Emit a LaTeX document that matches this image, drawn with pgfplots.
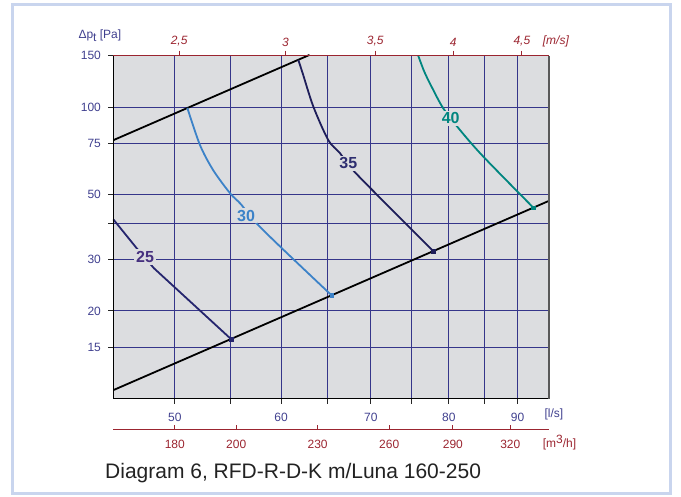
\documentclass[border=0pt]{standalone}
\usepackage{fontspec}
\setmainfont{Liberation Sans}
\usepackage{pgfplots}
\pgfplotsset{compat=1.18}
\newcommand{\fs}[1]{\fontsize{#1bp}{#1bp}\selectfont}
\definecolor{framecol}{HTML}{C9D5EE}
\definecolor{plotbg}{HTML}{DCDDE0}
\definecolor{gridcol}{HTML}{35358A}
\definecolor{axblue}{HTML}{40408F}
\definecolor{axred}{HTML}{9B2530}
\definecolor{c25}{HTML}{25256E}
\definecolor{l25}{HTML}{46307F}
\definecolor{c30}{HTML}{3C82C8}
\definecolor{c35}{HTML}{1E1E5A}
\definecolor{l35}{HTML}{2E2E70}
\definecolor{c40}{HTML}{00857F}
\definecolor{titlecol}{HTML}{222222}
\begin{document}
\begin{tikzpicture}[x=1bp,y=1bp]
\useasboundingbox (0,0) rectangle (681,497);
\draw[framecol, line width=2.5bp] (12.7,3.7) rectangle (670.5,492.5);

% m3/h axis
\begin{axis}[at={(113.3bp,67.7bp)}, anchor=south west, scale only axis,
  width=435.7bp, height=10bp, xmode=log, xmin=45, xmax=95, ymin=0, ymax=1,
  axis x line*=bottom, hide y axis,
  axis line style={axred, line width=1bp},
  xtick={50,55.556,63.889,72.222,80.556,88.889},
  xticklabels={180,200,230,260,290,320}, minor xtick={},
  tick align=inside, major tick length=4.3bp,
  tick style={axred, line width=1bp},
  xticklabel style={font=\fs{12}, text=axred, yshift=-7bp}]
\addplot[draw=none] coordinates {(50,0.5)};
\end{axis}

% top m/s axis
\begin{axis}[at={(113.3bp,98.3bp)}, anchor=south west, scale only axis,
  width=435.7bp, height=343bp, xmode=log, xmin=45, xmax=95, ymin=0, ymax=1,
  axis x line*=top, hide y axis,
  axis line style={draw=none},
  xtick={50.375,60.45,70.525,80.6,90.675},
  xticklabels={{2,5},{3},{3,5},{4},{4,5}}, minor xtick={},
  tick align=outside, major tick length=5bp,
  tick style={axred, line width=1bp},
  xticklabel style={font=\fs{12}\itshape, text=axred, yshift=1bp}]
\addplot[draw=none] coordinates {(50,0.5)};
\end{axis}

% main axis
\begin{axis}[at={(113.3bp,98.3bp)}, anchor=south west, scale only axis,
  width=435.7bp, height=343bp, xmode=log, ymode=log,
  xmin=45, xmax=95, ymin=10, ymax=150, clip=false,
  axis background/.style={fill=plotbg},
  axis line style={draw=none},
  xtick={50,55,60,65,70,75,80,85,90},
  xticklabels={50,,60,,70,,80,,90},
  ytick={15,20,30,40,50,75,100,150},
  yticklabels={15,20,30,,50,75,100,150},
  minor xtick={}, minor ytick={},
  xtick pos=left, ytick pos=left,
  grid=major, major grid style={gridcol, line width=0.9bp},
  tick align=outside, major tick length=5bp,
  tick style={black!85, line width=1bp},
  xticklabel style={font=\fs{12}, text=axblue, yshift=-6bp},
  yticklabel style={font=\fs{12}, text=axblue, xshift=-4bp}]
% system lines
\addplot[black, line width=1.8bp] coordinates {(45,77) (63.0,150.9)};
\addplot[black, line width=1.8bp] coordinates {(45,10.7) (95,47.69)};
% 25
\addplot[c25, line width=1.8bp] coordinates {(45,41.2) (46.84,32.8) (48.25,28.0) (55.06,16.02)};
% 30
\addplot[c30, line width=1.8bp, smooth, tension=0.5] coordinates {(51.09,99.3) (52.21,74.1) (53.40,60.8) (54.98,50.6) (55.99,46.5) (57.48,40.1) (60.25,32.4) (65.44,22.6)};
% 35
\addplot[c35, line width=1.8bp, smooth, tension=0.5] coordinates {(61.8,145.2) (62.27,130.5) (63.42,100.3) (65.06,77.1) (66.39,69.4) (68.31,58.9) (77.89,32.06)};
% 40
\addplot[c40, line width=1.8bp, smooth, tension=0.5] coordinates {(75.92,150) (76.72,132.2) (77.68,117.4) (79.25,99.0) (81.55,83.4) (84.88,67.6) (92.47,45.2)};
% end markers
\addplot[c25, only marks, mark=square*, mark size=1.8bp] coordinates {(55.06,16.02)};
\addplot[c30, only marks, mark=square*, mark size=1.8bp] coordinates {(65.44,22.6)};
\addplot[c35, only marks, mark=square*, mark size=1.8bp] coordinates {(77.89,32.06)};
\addplot[c40, only marks, mark=square*, mark size=1.8bp] coordinates {(92.47,45.2)};
% labels
\node[fill=plotbg, inner sep=2bp, font=\fs{16}\bfseries, text=l25] at (axis cs:47.52,30.6) {25};
\node[fill=plotbg, inner sep=2bp, font=\fs{16}\bfseries, text=c30] at (axis cs:56.5,42.4) {30};
\node[fill=plotbg, inner sep=2bp, font=\fs{16}\bfseries, text=l35] at (axis cs:67.33,64.1) {35};
\node[fill=plotbg, inner sep=2bp, font=\fs{16}\bfseries, text=c40] at (axis cs:80.26,91.5) {40};
% frame lines
\draw[black, line width=1.6bp] (rel axis cs:0,1) -- (rel axis cs:0,0) -- (rel axis cs:1,0);
\draw[black!65, line width=2.2bp] (rel axis cs:1,0) -- (rel axis cs:1,1);
\draw[axred, line width=1.2bp] (rel axis cs:0,1) -- (rel axis cs:1,1);
\end{axis}

% unit labels
\node[anchor=base west, inner sep=0, font=\fs{12}, text=axblue] at (78.3,458.7) {Δp\raisebox{-3.5bp}{t} [Pa]};
\node[anchor=base west, inner sep=0, font=\fs{12}\itshape, text=axred] at (542.7,452) {[m/s]};
\node[anchor=base west, inner sep=0, font=\fs{12}, text=axblue] at (544.3,79.4) {[l/s]};
\node[anchor=base west, inner sep=0, font=\fs{12}, text=axred] at (542.7,49.4) {[m\raisebox{4.5bp}{3}/h]};
\node[anchor=base west, inner sep=0, font=\fs{21}, text=titlecol] at (105,18.7) {Diagram 6, RFD-R-D-K m/Luna 160-250};
\end{tikzpicture}
\end{document}
